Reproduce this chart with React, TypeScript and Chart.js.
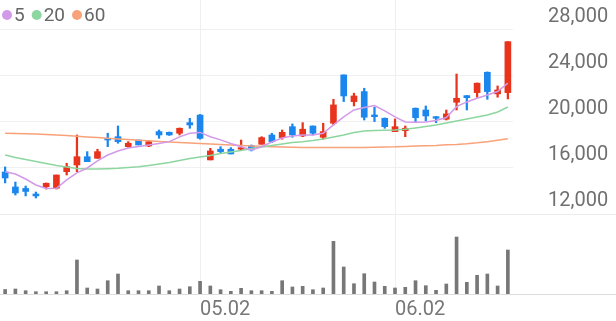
import React, { useEffect, useRef } from 'react';
import { Chart, registerables } from 'chart.js';

Chart.register(...registerables);

// ---- data ----
const dates = [
  '04.03', '04.05', '04.06', '04.07', '04.10', '04.11', '04.12', '04.13', '04.14', '04.17',
  '04.18', '04.19', '04.20', '04.21', '04.24', '04.25', '04.26', '04.27', '04.28',
  '05.02', '05.03', '05.04', '05.08', '05.09', '05.10', '05.11', '05.12', '05.15', '05.16',
  '05.17', '05.18', '05.19', '05.22', '05.23', '05.24', '05.25', '05.26', '05.30',
  '06.02', '06.05', '06.07', '06.08', '06.09', '06.12', '06.13', '06.14', '06.15', '06.16',
  '06.19', '06.20',
];

const open = [
  15650, 14350, 14220, 13740, 14370, 14240, 15680, 16260, 16980, 16840,
  18580, 18720, 17850, 18430, 17910, 19160, 19100, 19020, 19940, 20600,
  16700, 17630, 17630, 17630, 17940, 18060, 18870, 18640, 19590, 18780,
  19650, 18670, 19890, 24090, 21770, 22640, 20610, 20320, 19160, 19240,
  21190, 21040, 20460, 20240, 21710, 22290, 22550, 24320, 22440, 22550,
];
const high = [
  16090, 14780, 14430, 13910, 14700, 15390, 16410, 18870, 17420, 17630,
  19020, 19650, 18290, 18430, 18370, 19300, 19130, 19480, 20320, 20650,
  17710, 17850, 17770, 18430, 18000, 18720, 19020, 19300, 19830, 19940,
  19650, 19890, 21970, 24090, 22500, 22930, 21280, 20350, 20260, 19650,
  21220, 21390, 20480, 21040, 24170, 22300, 23390, 24350, 23130, 26980,
];
const low = [
  14700, 13650, 13570, 13390, 14170, 14170, 15390, 15680, 16550, 16840,
  17850, 18150, 17800, 18000, 17850, 18580, 18830, 18870, 19450, 18500,
  16700, 17280, 17220, 17570, 17480, 18060, 18200, 18500, 18670, 18720,
  18870, 18500, 19740, 21770, 21390, 20170, 20030, 19450, 19160, 18720,
  19940, 20090, 19940, 20170, 21040, 21040, 22150, 21970, 22150, 22000,
];
const close = [
  15130, 13830, 13960, 13570, 14670, 15390, 16110, 16980, 16550, 17420,
  18430, 18290, 18150, 18000, 18290, 18870, 18870, 19450, 19740, 18580,
  17480, 17420, 17220, 17770, 17570, 18640, 18290, 19100, 18870, 19370,
  19020, 19160, 21480, 22260, 22260, 20410, 20460, 19590, 19590, 19450,
  20370, 20520, 20320, 20700, 22060, 22110, 23370, 22640, 22780, 26980,
];

const ma5 = [
  15680, 15480, 15040, 14520, 14220, 14240, 14960, 15570, 16000, 16610,
  17130, 17480, 17740, 17870, 18000, 18130, 18290, 18700, 19020, 19090,
  18720, 18440, 18130, 17850, 17570, 17850, 18260, 18610, 18780, 18870,
  18870, 19020, 19740, 20440, 21040, 21260, 21420, 20960, 20440, 20000,
  19970, 20000, 20130, 20390, 21330, 21740, 22060, 22350, 22640, 23370,
];
const ma20 = [
  17130, 16910, 16740, 16570, 16390, 16220, 16090, 15960, 15910, 15910,
  15940, 15970, 16040, 16110, 16220, 16350, 16480, 16650, 16830, 16960,
  17090, 17260, 17390, 17520, 17700, 17830, 17960, 18090, 18220, 18290,
  18390, 18520, 18700, 18870, 19090, 19220, 19260, 19290, 19300, 19370,
  19480, 19610, 19740, 19910, 20090, 20260, 20440, 20610, 20870, 21300,
];
const ma60 = [
  19020, 19000, 18970, 18950, 18910, 18870, 18820, 18760, 18700, 18640,
  18580, 18520, 18470, 18420, 18370, 18310, 18260, 18210, 18170, 18120,
  18080, 18030, 17990, 17950, 17910, 17880, 17850, 17830, 17810, 17790,
  17780, 17770, 17770, 17770, 17780, 17790, 17810, 17830, 17840, 17870,
  17900, 17930, 17960, 18010, 18050, 18110, 18190, 18290, 18410, 18550,
];

// volume, thousand shares
const volume = [
  45, 50, 33, 23, 23, 23, 33, 340, 60, 50,
  133, 200, 33, 33, 33, 80, 33, 50, 73, 127,
  80, 43, 27, 57, 33, 33, 27, 133, 70, 77,
  43, 60, 527, 270, 103, 203, 120, 77, 60, 67,
  133, 83, 37, 100, 570, 117, 187, 200, 80, 440,
];

const priceTicks = [12000, 16000, 20000, 24000, 28000];
const maLabels = ['5', '20', '60'];

// ---- styles ----
const UP = '#e8341c';
const DOWN = '#1b87ee';
const MA_COLORS = ['#d29ae9', '#8dd6a0', '#f8a27a'];
const FONT = 'Roboto';

const isMonthStart = (i: number) =>
  i > 0 && i < dates.length && dates[i].slice(0, 2) !== dates[i - 1].slice(0, 2);

const panelLines = {
  id: 'panelLines',
  beforeDatasetsDraw(chart: any) {
    const { ctx, width } = chart;
    const yp = chart.scales.y;
    const yv = chart.scales.yVol;
    ctx.save();
    ctx.lineWidth = 1;
    ctx.strokeStyle = '#ececec';
    ctx.beginPath();
    ctx.moveTo(0, Math.round(yp.bottom) + 0.5);
    ctx.lineTo(width, Math.round(yp.bottom) + 0.5);
    ctx.stroke();
    ctx.strokeStyle = '#dddddd';
    ctx.beginPath();
    ctx.moveTo(0, Math.round(yv.bottom) + 0.5);
    ctx.lineTo(width, Math.round(yv.bottom) + 0.5);
    ctx.stroke();
    ctx.restore();
  },
};

const maLegend = {
  id: 'maLegend',
  afterDraw(chart: any) {
    const { ctx } = chart;
    ctx.save();
    ctx.font = `19px ${FONT}`;
    ctx.textBaseline = 'middle';
    let x = 2;
    const y = 15;
    chart.data.datasets.forEach((ds: any) => {
      if (ds.type !== 'line') return;
      ctx.fillStyle = ds.borderColor;
      ctx.beginPath();
      ctx.arc(x + 5, y, 5, 0, Math.PI * 2);
      ctx.fill();
      ctx.fillStyle = '#666666';
      ctx.fillText(ds.label, x + 12, y + 1);
      x += 12 + ctx.measureText(ds.label).width + 7;
    });
    ctx.restore();
  },
};

export default function App() {
  const ref = useRef<HTMLCanvasElement | null>(null);

  useEffect(() => {
    if (!ref.current) return;
    const candleColors = close.map((c, i) => (c >= open[i] ? UP : DOWN));
    const chart = new Chart(ref.current, {
      data: {
        labels: dates,
        datasets: [
          ...[ma5, ma20, ma60].map((d, k) => ({
            type: 'line' as const,
            label: maLabels[k],
            data: d,
            yAxisID: 'y',
            borderColor: MA_COLORS[k],
            backgroundColor: MA_COLORS[k],
            borderWidth: 1.5,
            pointRadius: 0,
            tension: 0,
          })),
          {
            type: 'bar' as const,
            label: 'body',
            data: open.map((o, i) => [o, close[i]]),
            yAxisID: 'y',
            backgroundColor: candleColors,
            barThickness: 6,
            grouped: false,
            minBarLength: 1.5,
          },
          {
            type: 'bar' as const,
            label: 'wick',
            data: low.map((l, i) => [l, high[i]]),
            yAxisID: 'y',
            backgroundColor: candleColors,
            barThickness: 1.6,
            grouped: false,
          },
          {
            type: 'bar' as const,
            label: 'volume',
            data: volume,
            yAxisID: 'yVol',
            backgroundColor: '#777777',
            barThickness: 3,
            grouped: false,
          },
        ],
      } as any,
      options: {
        responsive: false,
        animation: false,
        events: [],
        layout: { padding: 0 },
        plugins: {
          legend: { display: false },
          tooltip: { enabled: false },
        },
        scales: {
          x: {
            type: 'category',
            offset: true,
            grid: {
              offset: false,
              drawTicks: false,
              color: (c: any) => (isMonthStart(c.index) ? '#efefef' : 'rgba(0,0,0,0)'),
            },
            border: { display: false },
            ticks: {
              autoSkip: false,
              maxRotation: 0,
              align: 'start',
              padding: 4,
              color: '#777777',
              font: { family: FONT, size: 20 },
              callback: (_v: any, i: number) => (isMonthStart(i) ? dates[i] : ''),
            },
            afterFit: (s: any) => {
              s.height = 27;
              s.paddingLeft = 0;
              s.paddingRight = 0;
            },
          },
          y: {
            type: 'linear',
            position: 'right',
            stack: 'panels',
            stackWeight: 214,
            min: 12000,
            max: 30600,
            afterBuildTicks: (s: any) => {
              s.ticks = priceTicks.map((v) => ({ value: v }));
            },
            grid: { drawTicks: false, color: '#f0f0f0' },
            border: { display: false },
            ticks: {
              padding: 35,
              labelOffset: -13,
              color: '#707070',
              font: { family: FONT, size: 20 },
              callback: (v: any) => Number(v).toLocaleString('en-US'),
            },
            afterFit: (s: any) => {
              s.width = 103;
              s.paddingTop = 0;
              s.paddingBottom = 0;
            },
          },
          yVol: {
            type: 'linear',
            position: 'right',
            stack: 'panels',
            stackWeight: 80,
            min: 0,
            max: 800,
            grid: { display: false },
            border: { display: false },
            ticks: { display: false },
            afterFit: (s: any) => {
              s.width = 103;
              s.paddingTop = 0;
              s.paddingBottom = 0;
            },
          },
        },
      } as any,
      plugins: [panelLines, maLegend],
    });
    return () => chart.destroy();
  }, []);

  return (
    <div style={{ position: 'fixed', left: 0, top: 0, width: 616, height: 321, background: '#fff' }}>
      <canvas ref={ref} width={616} height={321} style={{ display: 'block' }} />
    </div>
  );
}
